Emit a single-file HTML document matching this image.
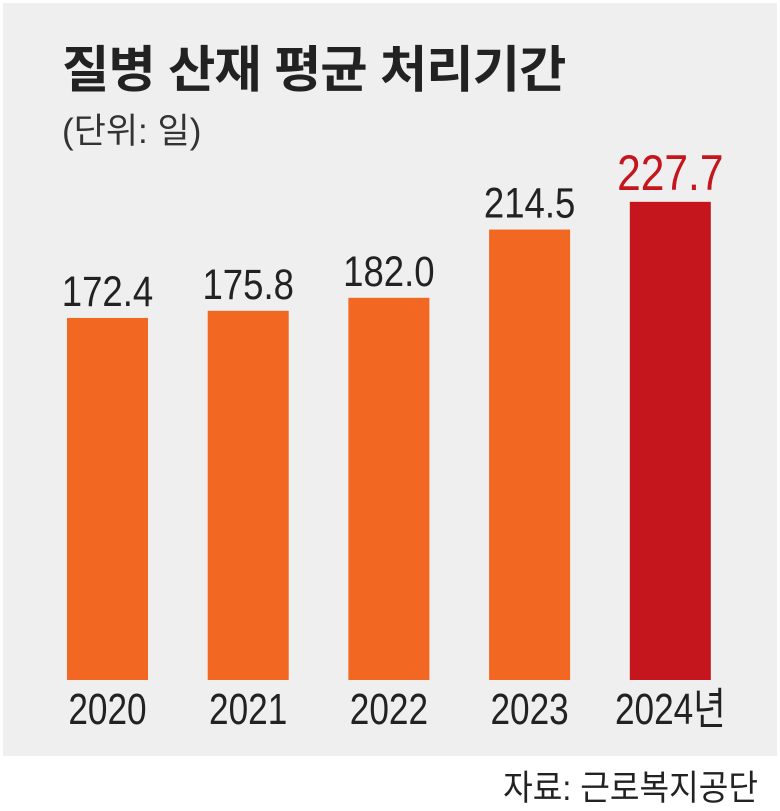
<!DOCTYPE html>
<html><head><meta charset="utf-8">
<style>
body{margin:0;width:780px;height:805px;background:#fff;overflow:hidden;font-family:"Liberation Sans","Noto Sans CJK KR",sans-serif;}
#panel{position:absolute;left:3px;top:3px;width:774px;height:753px;background:#efefef;}
.t{position:absolute;white-space:nowrap;}
</style></head><body>
<div id="panel"></div>
<div class="t" style="left:62px;top:30px;font-size:50px;font-weight:bold;color:#222;letter-spacing:-1px;transform:scaleX(1.03);transform-origin:left top;">질병 산재 평균 처리기간</div>
<div class="t" style="left:62px;top:103px;font-size:35px;color:#333;">(단위: 일)</div>
<svg id="chart" width="780" height="805" style="position:absolute;left:0;top:0"></svg>
<div class="t" style="right:22px;top:760px;font-size:35px;color:#222;transform:scaleX(0.92);transform-origin:right top;">자료: 근로복지공단</div>
<script>
const categories=["2020","2021","2022","2023","2024년"];
const values=[172.4,175.8,182.0,214.5,227.7];
const valueLabels=["172.4","175.8","182.0","214.5","227.7"];
const svg=document.getElementById('chart');
const NS="http://www.w3.org/2000/svg";
const baseY=680, pxPerUnit=2.1, x0=67, step=140.7, bw=81;
function y(v){return baseY-v*pxPerUnit;}
function x(i){return x0+i*step;}
categories.forEach((c,i)=>{
  const last=i===categories.length-1;
  const r=document.createElementNS(NS,'rect');
  r.setAttribute('x',x(i));r.setAttribute('y',y(values[i]));
  r.setAttribute('width',bw);r.setAttribute('height',baseY-y(values[i]));
  r.setAttribute('fill',last?'#c4161c':'#f26722');
  
  
  svg.appendChild(r);
  const cx=x(i)+bw/2;
  const vt=document.createElementNS(NS,'text');
  vt.setAttribute('x',cx);vt.setAttribute('y',y(values[i])-12);
  vt.setAttribute('text-anchor','middle');vt.setAttribute('font-size',last?'50':'43');
  vt.setAttribute('fill',last?'#c4161c':'#222');
  vt.setAttribute('transform','translate('+cx+',0) scale(0.85,1) translate('+(-cx)+',0)');
  vt.textContent=valueLabels[i];
  
  
  svg.appendChild(vt);
  const lt=document.createElementNS(NS,'text');
  lt.setAttribute('x',cx);lt.setAttribute('y',724);
  lt.setAttribute('text-anchor','middle');lt.setAttribute('font-size','44');
  lt.setAttribute('fill','#222');
  lt.setAttribute('transform','translate('+cx+',0) scale(0.8,1) translate('+(-cx)+',0)');
  lt.textContent=c;
  
  
  svg.appendChild(lt);
});
</script>
</body></html>
